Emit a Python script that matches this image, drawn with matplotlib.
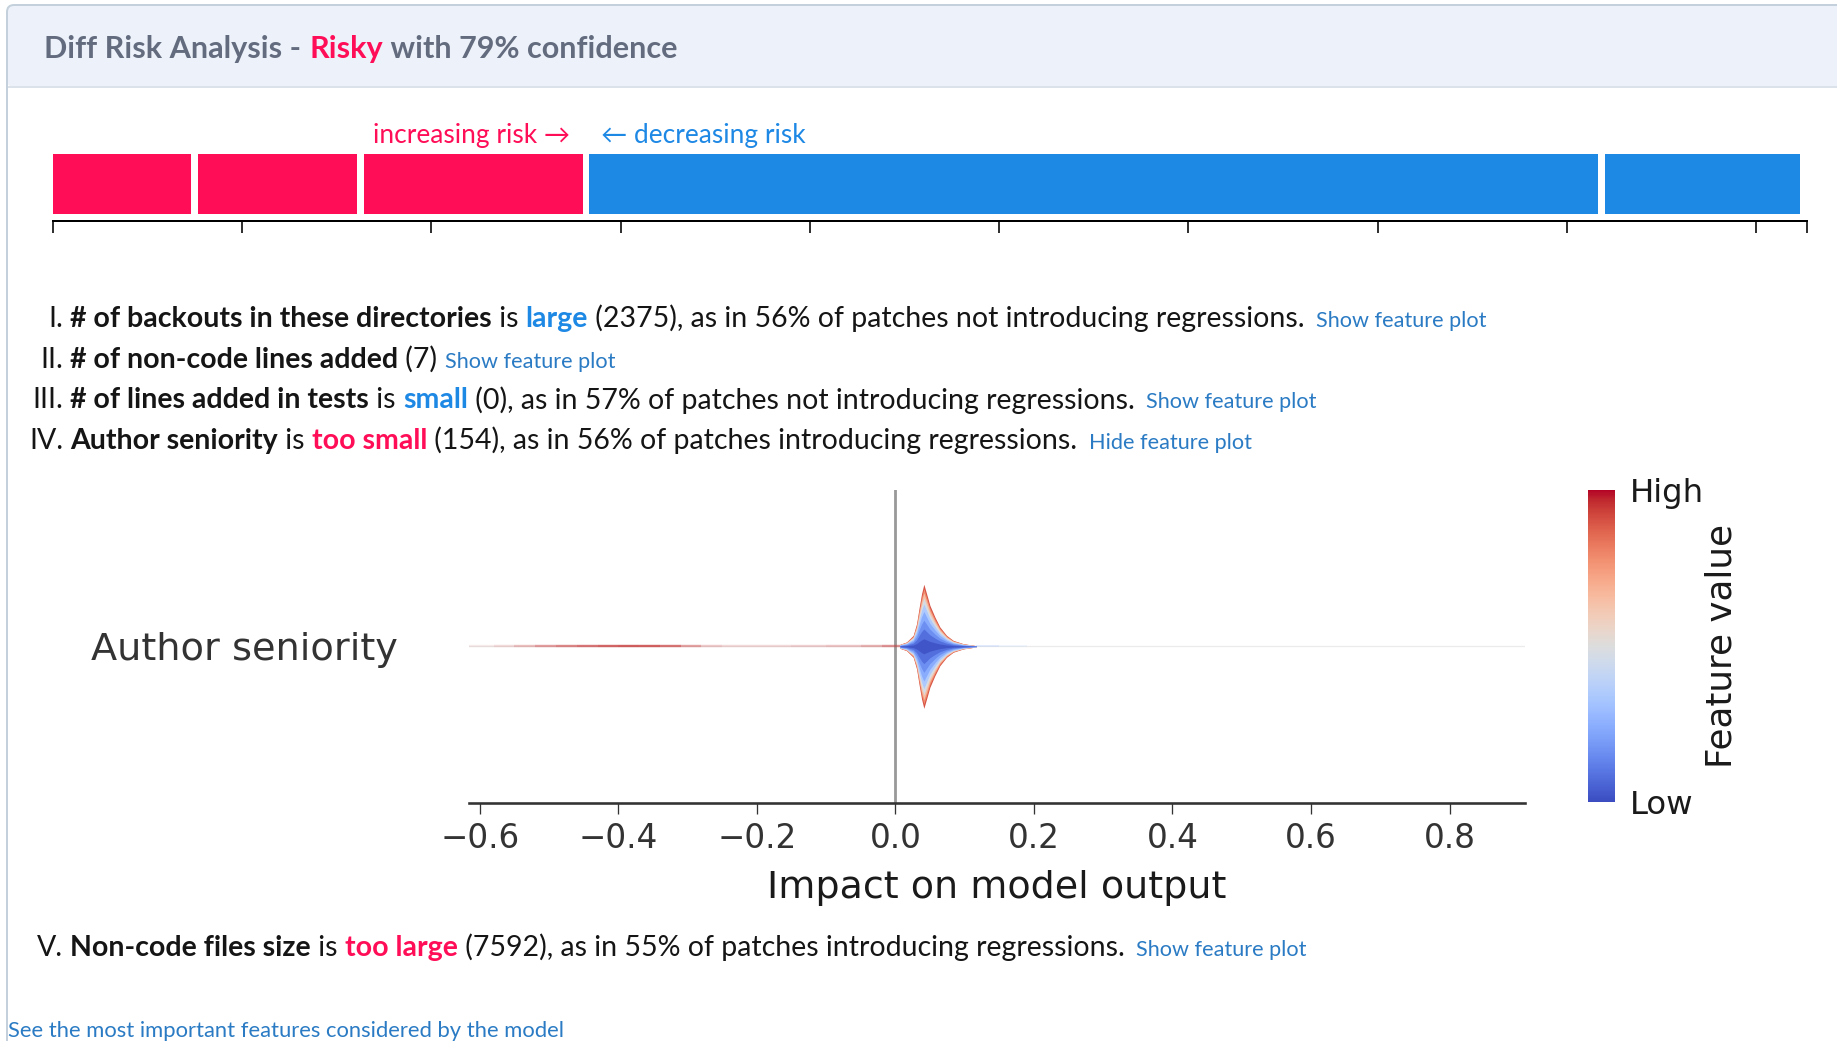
import numpy as np
import matplotlib
matplotlib.use("Agg")
import matplotlib.pyplot as plt
from matplotlib.patches import FancyBboxPatch
from matplotlib.collections import LineCollection
from matplotlib import cm, colors

# ---------------- data ----------------
header_prefix = "Diff Risk Analysis - "
header_verdict = "Risky"
header_suffix = " with 79% confidence"

risk_increasing_label = "increasing risk \u2192"
risk_decreasing_label = "\u2190 decreasing risk"

increasing_contrib = [0.0766, 0.0878, 0.1191]
decreasing_contrib = [0.5367, 0.1064]
force_ticks = [0.0, 0.1, 0.2, 0.3, 0.4, 0.5, 0.6, 0.7, 0.8, 0.9]
force_domain = [0.0, 0.927]

numerals = ["I.", "II.", "III.", "IV.", "V."]
feature_names = ["# of backouts in these directories", "# of non-code lines added",
                 "# of lines added in tests", "Author seniority", "Non-code files size"]
verdicts = ["large", None, "small", "too small", "too large"]
verdict_kind = ["decreasing", None, "decreasing", "increasing", "increasing"]
feature_values = ["2375", "7", "0", "154", "7592"]
percents = ["56%", None, "57%", "56%", "55%"]
groups = ["not introducing", None, "not introducing", "introducing", "introducing"]
links = ["Show feature plot", "Show feature plot", "Show feature plot",
         "Hide feature plot", "Show feature plot"]
footer_text = "See the most important features considered by the model"

shap_feature = "Author seniority"
shap_xticks = [-0.6, -0.4, -0.2, 0.0, 0.2, 0.4, 0.6, 0.8]
shap_xlim = [-0.616, 0.909]
shap_xlabel = "Impact on model output"
cbar_labels = ["Low", "High"]
cbar_title = "Feature value"

# dense cluster of the beeswarm: SHAP value and half-width of the swarm
swarm_x = [0.0065, 0.0161, 0.0257, 0.0306, 0.0344, 0.0378, 0.0411, 0.0450,
           0.0498, 0.0570, 0.0642, 0.0739, 0.0835, 0.0979, 0.1170]
swarm_half = [0.013, 0.028, 0.070, 0.145, 0.250, 0.337, 0.397, 0.337,
              0.262, 0.188, 0.124, 0.070, 0.038, 0.017, 0.004]
# sparse tails (SHAP value, point density shown as opacity)
tail_x = [-0.615, -0.58, -0.55, -0.52, -0.49, -0.46, -0.43, -0.40, -0.37, -0.34,
          -0.31, -0.28, -0.25, -0.20, -0.15, -0.10, -0.05, -0.02, 0.0065]
tail_alpha = [0.05, 0.12, 0.22, 0.40, 0.55, 0.62, 0.72, 0.78, 0.80, 0.75,
              0.60, 0.30, 0.20, 0.15, 0.20, 0.25, 0.30, 0.45, 0.60]
right_tail_x = [0.117, 0.15, 0.19]
right_tail_alpha = [0.35, 0.15, 0.04]

# ---------------- styles ----------------
W, H, DPI = 1837, 1041, 100
PX = 72.0 / DPI
RED = "#ff0d57"
BLUE = "#1e88e5"
LINK = "#2a7bc4"
TEXT = "#151515"
HEAD = "#636c7e"
FONT = ["Lato", "DejaVu Sans"]

fig = plt.figure(figsize=(W / DPI, H / DPI), dpi=DPI)
fig.patch.set_facecolor("white")
page = fig.add_axes([0, 0, 1, 1])
page.set_xlim(0, W)
page.set_ylim(H, 0)
page.axis("off")
renderer = fig.canvas.get_renderer()


def text_width(s, **kw):
    t = page.text(0, 0, "|" + s + "|", family=FONT, **kw)
    w1 = t.get_window_extent(renderer).width
    t.set_text("||")
    w2 = t.get_window_extent(renderer).width
    t.remove()
    return w1 - w2


def draw_runs(x, y, runs):
    for s, kw, extra in runs:
        page.text(x, y, s, va="baseline", ha="left", family=FONT, **kw)
        x += text_width(s, **kw) + extra
    return x


# ---------------- card + header ----------------
page.add_patch(FancyBboxPatch((7, 5), 1950, 1200, boxstyle="round,pad=0,rounding_size=7",
                              fc="white", ec="none", zorder=0))
page.add_patch(FancyBboxPatch((7, 5), 1950, 82, boxstyle="round,pad=0,rounding_size=7",
                              fc="#edf2fa", ec="none", zorder=0.5))
page.plot([7, W], [87, 87], color="#dbe2ea", lw=2 * PX, zorder=0.6)
page.add_patch(FancyBboxPatch((7, 5), 1950, 1200, boxstyle="round,pad=0,rounding_size=7",
                              fc="none", ec="#c4d1dc", lw=2 * PX, zorder=0.7))

hb = dict(fontsize=10, weight="bold")
hw = sum(text_width(s, **hb) for s in [header_prefix, header_verdict, header_suffix])
hsize = 10 * 632.5 / hw
draw_runs(44.5, 58, [(header_prefix, dict(fontsize=hsize, weight="bold", color=HEAD), 0),
                     (header_verdict, dict(fontsize=hsize, weight="bold", color=RED), 0),
                     (header_suffix, dict(fontsize=hsize, weight="bold", color=HEAD), 0)])

# ---------------- force bar ----------------
rsize = 10 * 196 / text_width(risk_increasing_label, fontsize=10)
page.text(570.6, 142.5, risk_increasing_label, ha="right", va="baseline",
          family=FONT, fontsize=rsize, color=RED)
page.text(601, 142.5, risk_decreasing_label, ha="left", va="baseline",
          family=FONT, fontsize=rsize, color=BLUE)

fx0, fx1, fy_axis, fy_top = 52.8, 1807.1, 221.0, 140.0
fax = fig.add_axes([fx0 / W, 1 - fy_axis / H, (fx1 - fx0) / W, (fy_axis - fy_top) / H])
fax.set_xlim(*force_domain)
fax.set_ylim(0, fy_axis - fy_top)
contrib = increasing_contrib + decreasing_contrib
bar_cols = [RED] * len(increasing_contrib) + [BLUE] * len(decreasing_contrib)
lefts = np.concatenate([[0.0], np.cumsum(contrib)[:-1]])
gap = 6.5 * (force_domain[1] - force_domain[0]) / (fx1 - fx0)
fax.bar(lefts, 59.7, width=np.array(contrib) - gap, bottom=7.3, align="edge",
        color=bar_cols, lw=0)
fax.set_xticks(force_ticks + [force_domain[1]])
fax.set_xticklabels([])
fax.set_yticks([])
for s in ["top", "left", "right"]:
    fax.spines[s].set_visible(False)
fax.spines["bottom"].set_linewidth(2 * PX)
fax.tick_params(axis="x", direction="out", length=12 * PX, width=1.6 * PX, color="black")
fax.patch.set_alpha(0)

# ---------------- explanation lines ----------------
w10 = (text_width(feature_names[0], fontsize=10, weight="bold")
       + text_width(" is ", fontsize=10)
       + text_width(verdicts[0], fontsize=10, weight="bold")
       + text_width(" (%s), as in %s of patches %s regressions." % (feature_values[0], percents[0], groups[0]), fontsize=10))
bsize = 10 * 1236.7 / w10
lsize = 10 * 171 / text_width(links[0], fontsize=10)

baselines = [327.3, 367.9, 408.5, 449.1, 956.3]
for i in range(len(numerals)):
    y = baselines[i]
    page.text(63, y, numerals[i], ha="right", va="baseline", family=FONT,
              fontsize=bsize, color=TEXT)
    runs = [(feature_names[i], dict(fontsize=bsize, weight="bold", color=TEXT), 0)]
    if verdicts[i] is None:
        runs.append((" (%s) " % feature_values[i], dict(fontsize=bsize, color=TEXT), 0))
    else:
        vcol = RED if verdict_kind[i] == "increasing" else BLUE
        runs.append((" is ", dict(fontsize=bsize, color=TEXT), 0))
        runs.append((verdicts[i], dict(fontsize=bsize, weight="bold", color=vcol), 0))
        runs.append((" (%s), as in %s of patches %s regressions. " %
                     (feature_values[i], percents[i], groups[i]), dict(fontsize=bsize, color=TEXT), 4.5))
    runs.append((links[i], dict(fontsize=lsize, color=LINK), 0))
    draw_runs(70.3, y, runs)

fsize = lsize * 557 / text_width(footer_text, fontsize=lsize)
page.text(8, 1037, footer_text, ha="left", va="baseline", family=FONT,
          fontsize=fsize, color=LINK)

# ---------------- SHAP summary plot ----------------
sx0, sx1, sy_top, sy_axis = 468.7, 1525.0, 490.0, 802.6
ax = fig.add_axes([sx0 / W, 1 - sy_axis / H, (sx1 - sx0) / W, (sy_axis - sy_top) / H])
ax.set_xlim(*shap_xlim)
ax.set_ylim(-1, 1)
ax.patch.set_alpha(0)
ax.axvline(0, color="#999999", lw=2.8 * PX, zorder=1)
ax.axhline(0, color="#ebebeb", lw=1.2 * PX, zorder=0.5)

cmap = plt.get_cmap("coolwarm")
tail_rgb = cmap(0.95)[:3]
segs = [[(tail_x[i], 0), (tail_x[i + 1], 0)] for i in range(len(tail_x) - 1)]
segcols = [tail_rgb + ((tail_alpha[i] + tail_alpha[i + 1]) / 2,) for i in range(len(tail_x) - 1)]
ax.add_collection(LineCollection(segs, colors=segcols, linewidths=2.4 * PX, zorder=2,
                                 capstyle="butt"))
rt_rgb = cmap(0.35)[:3]
rsegs = [[(right_tail_x[i], 0), (right_tail_x[i + 1], 0)] for i in range(len(right_tail_x) - 1)]
rcols = [rt_rgb + (right_tail_alpha[i],) for i in range(len(right_tail_x) - 1)]
ax.add_collection(LineCollection(rsegs, colors=rcols, linewidths=2.0 * PX, zorder=2))

half = np.array(swarm_half)
for f, c in [(1.0, 0.90), (0.93, 0.78), (0.86, 0.64), (0.78, 0.48), (0.68, 0.34),
             (0.56, 0.24), (0.42, 0.16), (0.28, 0.08), (0.12, 0.02)]:
    ax.fill_between(swarm_x, -f * half, f * half, color=cmap(c), lw=0, zorder=3)

for s in ["top", "left", "right"]:
    ax.spines[s].set_visible(False)
ax.spines["bottom"].set_linewidth(2.6 * PX)
ax.spines["bottom"].set_color("#333333")
ax.set_xticks(shap_xticks)
ax.set_xticklabels(["%.1f" % v if v >= 0 else "\u2212%.1f" % -v for v in shap_xticks])
ax.tick_params(axis="x", length=10.7 * PX, width=1.3 * PX, color="#333333",
               labelsize=23.5, labelcolor="#333333", pad=6)
ax.set_yticks([0])
ax.set_yticklabels([shap_feature])
ax.tick_params(axis="y", length=0, labelsize=27.5, labelcolor="#333333", pad=70.7 * PX)
ax.set_xlabel(shap_xlabel, fontsize=27.4, color="#1a1a1a", labelpad=11)
for t in ax.get_xticklabels() + ax.get_yticklabels():
    t.set_family("DejaVu Sans")
ax.xaxis.label.set_family("DejaVu Sans")

cax = fig.add_axes([1588 / W, 1 - 802 / H, 27 / W, (802 - 489.7) / H])
sm = cm.ScalarMappable(cmap=cmap, norm=colors.Normalize(0, 1))
cb = fig.colorbar(sm, cax=cax, ticks=[0, 1])
cb.set_ticklabels(cbar_labels)
cb.outline.set_visible(False)
cax.tick_params(length=0, labelsize=23.3, pad=15 * PX, labelcolor="#1a1a1a")
cb.set_label(cbar_title, fontsize=25.7, labelpad=0, color="#1a1a1a")

fig.savefig("out.png", dpi=DPI)
